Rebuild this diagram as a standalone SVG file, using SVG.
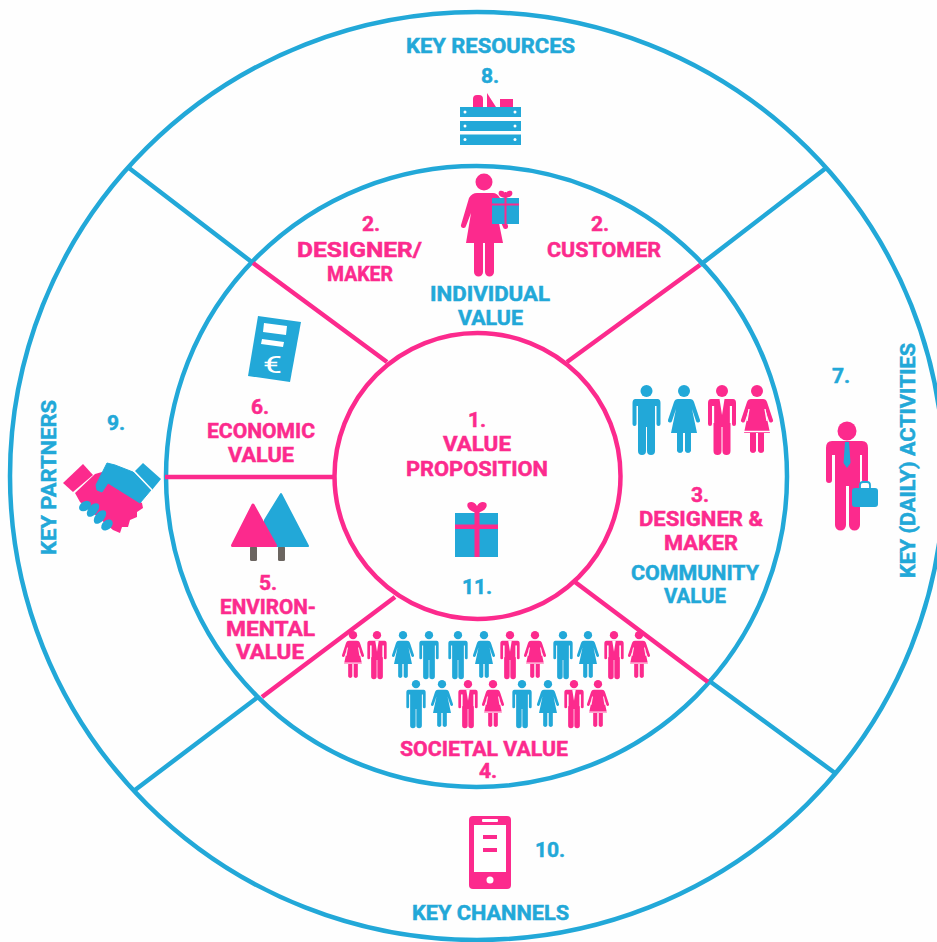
<svg xmlns="http://www.w3.org/2000/svg" width="937" height="942" viewBox="0 0 937 942">
<style>
text{font-family:"Roboto","Liberation Sans",sans-serif;font-weight:700;font-size:21px}
.tb{fill:#22a8d8;stroke:#22a8d8;stroke-width:.5}.tp{fill:#fc2a8d;stroke:#fc2a8d;stroke-width:.5}
.b{fill:#22a8d8}.p{fill:#fc2a8d}.w{fill:#fff}
.lb{stroke:#22a8d8;stroke-width:4.500;fill:none}.lp{stroke:#fc2a8d;stroke-width:4.500;fill:none}
.seam{stroke:#fff;stroke-width:1.3;fill:none}
</style>
<defs>
<g id="man"><circle cx="0" cy="6" r="6"/><path d="M-11 14H11Q14 14 14 18V39a2 2 0 0 1-4 0V21H8.500V66a4 4 0 0 1-8 0V42H-.5V66a4 4 0 0 1-8 0V21H-10V39a2 2 0 0 1-4 0V18Q-14 14-11 14Z"/></g>
<g id="woman"><circle cx="0" cy="6" r="6"/><path d="M-6 14H6Q9 14 10 17L16 35a2 2 0 0 1-4 1L8 24 13 48H7V66a3.200 3.200 0 0 1-6 0V48H-1V66a3.200 3.200 0 0 1-6 0V48H-13L-8 24-12 36a2 2 0 0 1-4-1L-10 17Q-9 14-6 14Z"/></g>
<g id="suit"><use href="#man"/><path d="M-2.500 14L0 30 2.500 14Z" fill="#fff"/><path d="M-8.500 21V38M8.500 21V38" class="seam"/></g>
<g id="dress"><use href="#woman"/><path d="M-13 46.500H13" stroke="#fff" stroke-width="1.500"/><path d="M-8 24-10 36M8 24 10 36" class="seam"/></g>
</defs>
<rect width="937" height="942" fill="#fefefe"/>
<g id="connectors">
<ellipse class="lb" cx="477" cy="476" rx="467" ry="464"/>
<circle class="lb" cx="476.500" cy="476.500" r="310.500"/>
<path class="lb" d="M129 168L253 263M826 168L700 265M135 790L258 697M835 773L708 680"/>
<path class="lp" d="M253 263L387 362M700 265L567 362M165 477H333M262 697L395 597M708 682L575 582"/>
<circle class="lp" cx="477.500" cy="476" r="143"/>
</g>
<g id="key-resources">
<text class="tb" x="406" y="53" textLength="169" lengthAdjust="spacingAndGlyphs">KEY RESOURCES</text>
<text class="tb" x="490" y="83" text-anchor="middle">8.</text>
<path class="p" d="M473 107V99q0-4 4-4h2q4 0 4 4v8ZM487 107V93l9 14ZM500 99h13v8h-13Z"/>
<rect class="b" x="460" y="107" width="61" height="10"/><rect class="b" x="460" y="121" width="61" height="10"/><rect class="b" x="460" y="134.500" width="61" height="10.500"/>
<g class="w"><circle cx="465" cy="112" r="1.500"/><circle cx="515" cy="112" r="1.500"/><circle cx="465" cy="126" r="1.500"/><circle cx="515" cy="126" r="1.500"/><circle cx="465" cy="139.500" r="1.500"/><circle cx="515" cy="139.500" r="1.500"/></g>
</g>
<g id="individual-value">
<circle class="p" cx="484" cy="182" r="8.500"/>
<path class="p" d="M477 193H493Q497 193 500 198L508 226a2.500 2.500 0 0 1-5 1L497 213 503 243H494V272a4.500 4.500 0 0 1-9 0V243H483V272a4.500 4.500 0 0 1-9 0V243H466L471 213 466 226a2.500 2.500 0 0 1-5-1L469 198Q472 193 477 193Z"/>
<rect class="b" x="492" y="198" width="27" height="26"/>
<path class="p" d="M504.500 192h2v32h-2ZM492 203.500h27v2h-27Z"/>
<path class="p" d="M505.500 198c-7-1-8-5-6-7 2-1 5 0 6 3 1-3 4-4 6-3 2 2 1 6-6 7Z"/>
<text class="tb" x="430" y="301" textLength="120" lengthAdjust="spacingAndGlyphs">INDIVIDUAL</text>
<text class="tb" x="458" y="325" textLength="65" lengthAdjust="spacingAndGlyphs">VALUE</text>
</g>
<g id="designer-maker">
<text class="tp" x="371" y="231" text-anchor="middle">2.</text>
<text class="tp" x="297" y="257" textLength="125" lengthAdjust="spacingAndGlyphs">DESIGNER/</text>
<text class="tp" x="327" y="281" textLength="66" lengthAdjust="spacingAndGlyphs">MAKER</text>
</g>
<g id="customer">
<text class="tp" x="600" y="231" text-anchor="middle">2.</text>
<text class="tp" x="547" y="257" textLength="114" lengthAdjust="spacingAndGlyphs">CUSTOMER</text>
</g>
<g id="value-proposition">
<text class="tp" x="477" y="427" text-anchor="middle">1.</text>
<text class="tp" x="443" y="451" textLength="68" lengthAdjust="spacingAndGlyphs">VALUE</text>
<text class="tp" x="406" y="476" textLength="142" lengthAdjust="spacingAndGlyphs">PROPOSITION</text>
<rect class="b" x="455" y="513" width="43" height="44"/>
<path class="p" d="M474.500 506h5v51h-5ZM455 524.500h43v4.500h-43Z"/>
<path class="p" d="M477 513c-9-2-11-7-9-10 3-2 7-1 9 3 2-4 6-5 9-3 2 3 0 8-9 10Z"/>
<text class="tb" x="477" y="594" text-anchor="middle">11.</text>
</g>
<g id="economic-value">
<path class="b" d="M258 316L301 322 290 382 248 376Z"/>
<path class="w" d="M264 323L287 326 286 335 263 332ZM262 339L284 342 283 347 261 344Z"/>
<text class="w" x="263" y="373" textLength="19" lengthAdjust="spacingAndGlyphs" style="font-size:24px;font-weight:400">€</text>
<text class="tp" x="260" y="414" text-anchor="middle">6.</text>
<text class="tp" x="207" y="438" textLength="108" lengthAdjust="spacingAndGlyphs">ECONOMIC</text>
<text class="tp" x="228" y="462" textLength="66" lengthAdjust="spacingAndGlyphs">VALUE</text>
</g>
<g id="key-partners">
<text class="tb" transform="translate(56 555) rotate(-90)" x="0" y="0" textLength="155" lengthAdjust="spacingAndGlyphs">KEY PARTNERS</text>
<text class="tb" x="116" y="430" text-anchor="middle">9.</text>
<path class="p" d="M63 483L83 464 93 475 73 492Z"/>
<path class="p" d="M75 493L95 474 102 472 142 503 143 508 137 512 137 517 130 520 128 527 122 527 120 533 113 530 80 502Z"/>
<path class="b" d="M107 463L115 465 133 472 151 490 140 503 108 483 102 492 97 490 96 485Z" stroke="#22a8d8" stroke-width="1" stroke-linejoin="round"/>
<path class="b" d="M143 463L161 479 152 490 134 472Z"/>
<path d="M134 471L152 490" stroke="#fff" stroke-width="1.500"/>
<g class="b"><ellipse cx="85" cy="506" rx="6.500" ry="4.500" transform="rotate(-35 85 506)"/><ellipse cx="93" cy="510" rx="8" ry="4.500" transform="rotate(-50 93 510)"/><ellipse cx="100" cy="517" rx="8" ry="4.500" transform="rotate(-50 100 517)"/><ellipse cx="107" cy="525" rx="6.500" ry="4.500" transform="rotate(-40 107 525)"/></g>
</g>
<g id="environmental-value">
<rect x="250" y="546" width="7" height="15" rx="1.500" fill="#6b6560"/><rect x="278" y="546" width="7" height="15" rx="1.500" fill="#6b6560"/>
<path class="b" d="M281 494L308 546H262L265 520Z" stroke="#22a8d8" stroke-width="2" stroke-linejoin="round"/>
<path class="p" d="M253 505L275.500 545.500H232.500Z" stroke="#fc2a8d" stroke-width="3" stroke-linejoin="round"/>
<text class="tp" x="268" y="590" text-anchor="middle">5.</text>
<text class="tp" x="220" y="614" textLength="96" lengthAdjust="spacingAndGlyphs">ENVIRON-</text>
<text class="tp" x="226" y="636" textLength="89" lengthAdjust="spacingAndGlyphs">MENTAL</text>
<text class="tp" x="236" y="659" textLength="68" lengthAdjust="spacingAndGlyphs">VALUE</text>
</g>
<g id="community-value">
<use href="#man" class="b" x="646.500" y="385"/>
<use href="#woman" class="b" x="684" y="385"/>
<use href="#suit" class="p" x="722" y="385"/>
<use href="#dress" class="p" x="757" y="385"/>
<text class="tp" x="700" y="502" text-anchor="middle">3.</text>
<text class="tp" x="639" y="526" textLength="124" lengthAdjust="spacingAndGlyphs">DESIGNER &amp;</text>
<text class="tp" x="664" y="550" textLength="74" lengthAdjust="spacingAndGlyphs">MAKER</text>
<text class="tb" x="631" y="580" textLength="128" lengthAdjust="spacingAndGlyphs">COMMUNITY</text>
<text class="tb" x="664" y="603" textLength="62" lengthAdjust="spacingAndGlyphs">VALUE</text>
</g>
<g id="key-activities">
<text class="tb" x="841" y="383" text-anchor="middle">7.</text>
<circle class="p" cx="847" cy="431" r="9.500"/>
<path class="p" d="M832 441H862Q868 441 868 448V480a3 3 0 0 1-6 0V455H860V525a5 5 0 0 1-11 0V486H846V525a5 5 0 0 1-11 0V455H832V480a3 3 0 0 1-6 0V448Q826 441 832 441Z"/>
<path class="b" d="M845 442H849L850.500 463 847 468 843.500 463Z"/>
<rect class="b" x="852" y="488" width="26" height="19" rx="3"/>
<path d="M860 488v-3q0-3 3-3h4q3 0 3 3v3" fill="none" stroke="#22a8d8" stroke-width="1.800"/>
<text class="tb" transform="translate(915 578) rotate(-90)" x="0" y="0" textLength="235" lengthAdjust="spacingAndGlyphs">KEY (DAILY) ACTIVITIES</text>
</g>
<g id="societal-value">
<use href="#dress" class="p" transform="translate(353 631) scale(.69)"/>
<use href="#suit" class="p" transform="translate(377 631) scale(.69)"/>
<use href="#woman" class="b" transform="translate(403 631) scale(.69)"/>
<use href="#man" class="b" transform="translate(429 631) scale(.69)"/>
<use href="#man" class="b" transform="translate(458 631) scale(.69)"/>
<use href="#woman" class="b" transform="translate(484 631) scale(.69)"/>
<use href="#suit" class="p" transform="translate(510 631) scale(.69)"/>
<use href="#dress" class="p" transform="translate(535 631) scale(.69)"/>
<use href="#man" class="b" transform="translate(563 631) scale(.69)"/>
<use href="#woman" class="b" transform="translate(588 631) scale(.69)"/>
<use href="#suit" class="p" transform="translate(614 631) scale(.69)"/>
<use href="#dress" class="p" transform="translate(639 631) scale(.69)"/>
<use href="#man" class="b" transform="translate(416 680) scale(.69)"/>
<use href="#woman" class="b" transform="translate(442 680) scale(.69)"/>
<use href="#suit" class="p" transform="translate(468 680) scale(.69)"/>
<use href="#dress" class="p" transform="translate(493 680) scale(.69)"/>
<use href="#man" class="b" transform="translate(522 680) scale(.69)"/>
<use href="#woman" class="b" transform="translate(548 680) scale(.69)"/>
<use href="#suit" class="p" transform="translate(574 680) scale(.69)"/>
<use href="#dress" class="p" transform="translate(598 680) scale(.69)"/>
<text class="tp" x="400" y="756" textLength="168" lengthAdjust="spacingAndGlyphs">SOCIETAL VALUE</text>
<text class="tp" x="488" y="778" text-anchor="middle">4.</text>
</g>
<g id="key-channels">
<rect class="p" x="469" y="816" width="42" height="73" rx="4"/>
<rect class="w" x="474" y="825" width="32" height="47"/>
<rect class="w" x="482" y="819" width="16" height="3" rx="1"/>
<rect class="p" x="483" y="835" width="14" height="4"/><rect class="p" x="483" y="848" width="14" height="4"/>
<circle class="w" cx="490" cy="880" r="3.500"/>
<text class="tb" x="550" y="857" text-anchor="middle">10.</text>
<text class="tb" x="412" y="920" textLength="157" lengthAdjust="spacingAndGlyphs">KEY CHANNELS</text>
</g>
</svg>
